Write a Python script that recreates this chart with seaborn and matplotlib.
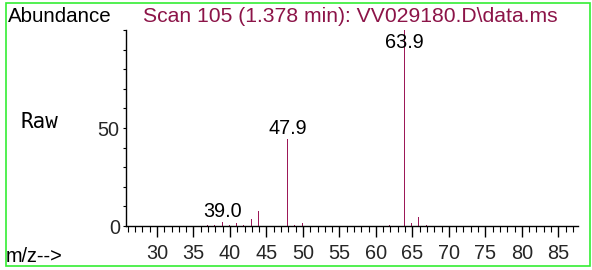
import matplotlib
matplotlib.use("Agg")
import matplotlib.pyplot as plt
import seaborn as sns
import pandas as pd
from matplotlib.ticker import MultipleLocator, FixedLocator
from matplotlib.patches import Rectangle

# ---- data ----
mz = [36.9, 37.9, 39.0, 39.9, 40.9, 41.9, 42.9, 43.9, 47.9, 48.9, 49.9,
      61.9, 63.9, 64.9, 65.9, 66.9]
abundance = [0.5, 0.5, 1.9, 0.7, 1.7, 0.7, 3.6, 7.8, 44.2, 0.5, 1.7,
             0.6, 100.0, 1.7, 4.7, 0.6]
labeled_peaks = [39.0, 47.9, 63.9]
title = "Scan 105 (1.378 min): VV029180.D\\data.ms"
x_range = (25.75, 87.7)
y_range = (0, 100)

df = pd.DataFrame({"mz": mz, "abundance": abundance})

sns.set_theme(style="white")
plt.rcParams["font.family"] = ["Liberation Sans", "DejaVu Sans"]

W, H = 592, 270
FS = 14.3
fig = plt.figure(figsize=(W / 100, H / 100), dpi=100)
ax = fig.add_axes([126 / W, 1 - 226 / H, (578 - 126) / W, (226 - 30) / H])

bar_color = "#9c1858"
sns.barplot(data=df, x="mz", y="abundance", native_scale=True, width=0.16,
            color=bar_color, linewidth=0, errorbar=None, ax=ax, saturation=1)

ax.set_xlim(*x_range)
ax.set_ylim(*y_range)
ax.set_xlabel("")
ax.set_ylabel("")

for s in ["top", "right"]:
    ax.spines[s].set_visible(False)
for s in ["left", "bottom"]:
    ax.spines[s].set_color("black")
    ax.spines[s].set_linewidth(1.0)

ax.xaxis.set_major_locator(MultipleLocator(5))
ax.xaxis.set_minor_locator(MultipleLocator(1))
ax.yaxis.set_major_locator(FixedLocator([0, 50]))
ax.yaxis.set_minor_locator(MultipleLocator(10))
ax.set_xticks([t for t in range(30, 90, 5)])
ax.tick_params(axis="x", which="major", direction="out", length=8, width=1,
               color="black", labelsize=FS, pad=5, bottom=True)
ax.tick_params(axis="x", which="minor", direction="out", length=4.5, width=0.8,
               color="black", bottom=True)
ax.tick_params(axis="y", which="both", direction="out", length=2.5, width=0.8,
               color="black", labelsize=FS, pad=2, left=True)
ax.grid(False)

# peak labels
for m, a in zip(mz, abundance):
    if any(abs(m - p) < 1e-6 for p in labeled_peaks):
        ytxt = min(a, 88)
        ax.annotate(f"{m:.1f}", (m, ytxt), xytext=(0, 4), textcoords="offset points",
                    ha="center", va="baseline", fontsize=FS, color="black")

# figure texts
fig.text(8 / W, 1 - 17 / H, "Abundance", fontsize=14.8, color="black",
         ha="left", va="center")
fig.text(143 / W, 1 - 17 / H, title, fontsize=15.2, color="#8c1448",
         ha="left", va="center")
fig.text(20 / W, 1 - 122 / H, "Raw", fontsize=15, color="black",
         ha="left", va="center", family="DejaVu Sans Mono")
fig.text(6 / W, 1 - 256 / H, "m/z-->", fontsize=FS, color="black",
         ha="left", va="center")

# green frame
fig.patches.append(Rectangle((5.5 / W, 1 - 265.5 / H), (589.5 - 5.5) / W,
                             (265.5 - 2.5) / H, transform=fig.transFigure,
                             fill=False, edgecolor="#33ee33", linewidth=1.2))

fig.savefig("out.png", dpi=100)
